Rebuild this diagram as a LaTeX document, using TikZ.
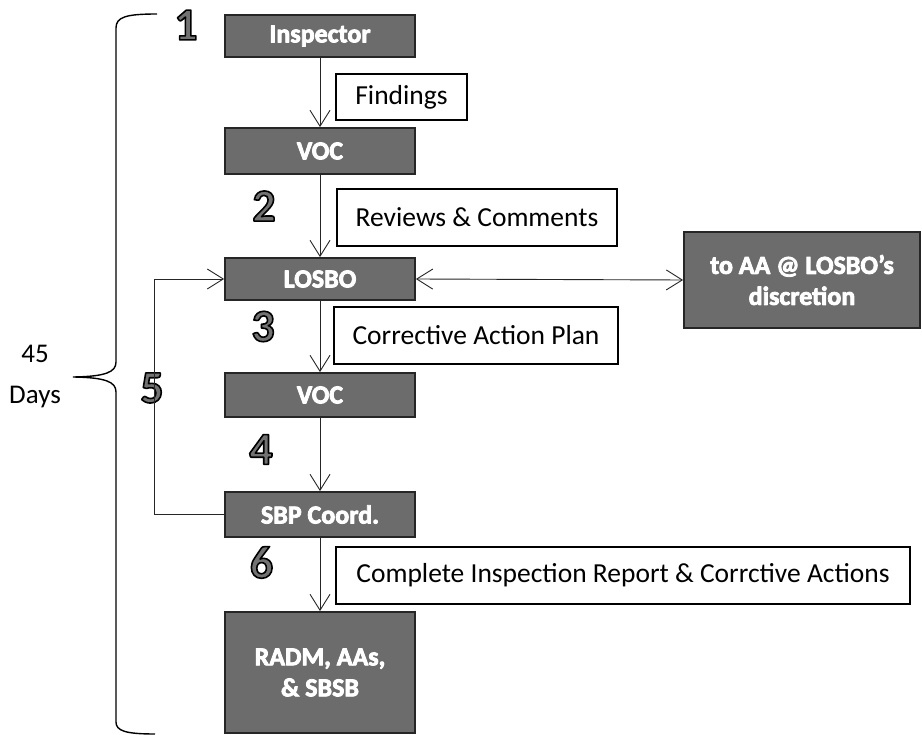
\documentclass[tikz,border=0pt]{standalone}
\usepackage{fontspec}
\setmainfont{Carlito}
\usetikzlibrary{arrows.meta}
\definecolor{boxgray}{HTML}{6C6C6C}
\definecolor{numgray}{HTML}{727272}
% heavier white lettering for the step boxes (fill+stroke in white)
\newcommand\outl[1]{\special{pdf:literal direct q 1 G 0.8 w 1 j 2 Tr}#1\special{pdf:literal direct Q}}
% grey step numbers with a dark stroked edge
\newcommand\outlnum[1]{\special{pdf:literal direct q 0 G 1.6 w 1 j 2 Tr}#1\special{pdf:literal direct Q}}

\tikzset{
  stepbox/.style={draw=black!85, line width=1.8pt, fill=boxgray, text=white,
    font=\bfseries\fontsize{26}{31}\selectfont, minimum width=190pt,
    inner sep=0pt, align=center},
  notebox/.style={draw=black, line width=1.3pt, fill=white,
    font=\fontsize{27.5}{32}\selectfont, inner sep=0pt},
  stepnum/.style={font=\bfseries\fontsize{46}{46}\selectfont, text=numgray, inner sep=0pt},
  flow/.style={draw=black!85, line width=0.9pt,
    -{Straight Barb[length=16pt,width=20pt,line width=0.9pt]}},
  bothflow/.style={flow, {Straight Barb[length=16pt,width=20pt,line width=0.9pt]}-{Straight Barb[length=16pt,width=20pt,line width=0.9pt]}},
  bracepath/.style={draw=black, line width=1.4pt}
}

\begin{document}
\begin{tikzpicture}[x=1pt,y=-1pt]
  \useasboundingbox (0,0) rectangle (922,735);
  \fill[white] (0,0) rectangle (922,735);

  % main chain of steps
  \node[stepbox, minimum height=42pt] (insp) at (320,36) {\outl{Inspector}};
  \node[stepbox, minimum height=46pt] (voca) at (320,151) {\outl{VOC}};
  \node[stepbox, minimum height=42pt] (losbo) at (320,279) {\outl{LOSBO}};
  \node[stepbox, minimum height=44pt] (vocb) at (320,395) {\outl{VOC}};
  \node[stepbox, minimum height=45pt] (sbp) at (320,514.5) {\outl{SBP Coord.}};
  \node[stepbox, minimum height=121pt] (radm) at (320,672.5)
    {\outl{RADM, AAs,}\\\outl{\& SBSB}};
  \node[stepbox, minimum width=236pt, minimum height=96pt] (aa) at (802,280)
    {\outl{to AA @ LOSBO's}\\\outl{discretion}};

  % notes beside the arrows
  \node[notebox, minimum width=131pt, minimum height=46pt] (find) at (401.5,97) {Findings};
  \node[notebox, minimum width=280pt, minimum height=57pt] (rev) at (477,217.5) {Reviews \& Comments};
  \node[notebox, minimum width=284pt, minimum height=57pt] (cap) at (476,335.5) {Corrective Action Plan};
  \node[notebox, minimum width=574pt, minimum height=57pt] (rep) at (623,575.5)
    {Complete Inspection Report \& Corrctive Actions};

  % step numbers
  \node[stepnum] (n1) at (186,25) {\outlnum{1}};
  \node[stepnum] (n2) at (264,206) {\outlnum{2}};
  \node[stepnum] (n3) at (263,326.5) {\outlnum{3}};
  \node[stepnum] (n4) at (261,449.5) {\outlnum{4}};
  \node[stepnum] (n5) at (152,388) {\outlnum{5}};
  \node[stepnum] (n6) at (261.5,562.5) {\outlnum{6}};

  % flow arrows
  \draw[flow] (insp) -- (voca);
  \draw[flow] (voca) -- (losbo);
  \draw[flow] (losbo) -- (vocb);
  \draw[flow] (vocb) -- (sbp);
  \draw[flow] (sbp) -- (radm);
  \draw[bothflow] (losbo.east) -- (aa.west);
  \coordinate (loopx) at (154,0);
  \draw[flow] (sbp.west) -- (sbp.west -| loopx) |- (losbo.west);

  % 45-day brace
  \node[font=\fontsize{27}{41}\selectfont, align=center] (days) at (35,376.5) {45\\Days};
  \coordinate (btop) at (157,14);
  \coordinate (btip) at (73,377);
  \coordinate (bbot) at (155,734);
  \draw[bracepath] (btop) .. controls (126,14) and (116,17) .. (116,28)
    -- (116,362) .. controls (116,372) and (106,376.5) .. (btip)
    .. controls (106,377.5) and (116,382) .. (116,392)
    -- (116,722) .. controls (116,731) and (126,734) .. (bbot);
\end{tikzpicture}
\end{document}
